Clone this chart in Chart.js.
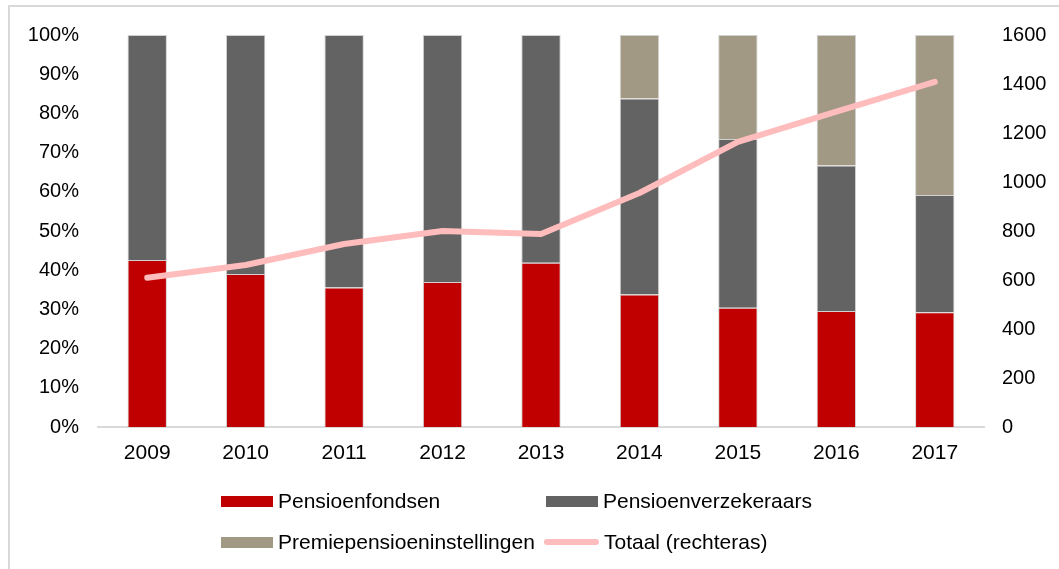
<!DOCTYPE html>
<html>
<head>
<meta charset="utf-8">
<script src="https://cdn.jsdelivr.net/npm/chart.js@4"></script>
<style>
  html, body { margin: 0; padding: 0; background: #fff; }
  #wrap { position: relative; width: 1059px; height: 569px; overflow: hidden; }
  #frame { position: absolute; left: 8px; top: 5px; right: -5px; bottom: -5px; border-left: 2px solid #d9d9d9; border-top: 2px solid #d9d9d9; }
  canvas { position: absolute; left: 0; top: 0; }
  #legend { position: absolute; left: 221px; top: 488px; font-family: "Liberation Sans", Arial, sans-serif; font-size: 21px; color: #000; }
  .item { position: absolute; white-space: nowrap; display: flex; align-items: center; height: 26px; }
  .swatch { width: 52px; height: 11px; margin-right: 5px; }
  .lineSw { width: 55px; height: 6px; border-radius: 3px; margin-right: 5px; }
</style>
</head>
<body>
<div id="wrap">
  <div id="frame"></div>
  <canvas id="chart" width="1059" height="569"></canvas>
  <div id="legend"></div>
</div>
<script>
// ---- data ----
const years = ["2009", "2010", "2011", "2012", "2013", "2014", "2015", "2016", "2017"];
const pensioenfondsen = [42.6, 39.0, 35.6, 37.0, 41.9, 33.8, 30.4, 29.6, 29.3];
const verzekeraars    = [57.4, 61.0, 64.4, 63.0, 58.1, 50.0, 43.1, 37.1, 29.9];
const ppi             = [0, 0, 0, 0, 0, 16.2, 26.5, 33.3, 40.8];
const totaal          = [609, 661, 747, 800, 788, 955, 1164, 1287, 1409];

const seriesNames = ["Pensioenfondsen", "Pensioenverzekeraars", "Premiepensioeninstellingen", "Totaal (rechteras)"];
const colors = ["#c00000", "#636363", "#a29985", "#ffbcbc"];

const FONT = { family: "'Liberation Sans', Arial, sans-serif", size: 20 };
const XFONT = { family: "'Liberation Sans', Arial, sans-serif", size: 21 };
const EDGE = "rgba(190,190,190,0.7)";

const ctx = document.getElementById("chart").getContext("2d");
const chart = new Chart(ctx, {
  data: {
    labels: years,
    datasets: [
      {
        type: "line", label: seriesNames[3], data: totaal, yAxisID: "y2",
        borderColor: colors[3], borderWidth: 6, borderCapStyle: "round", borderJoinStyle: "round",
        pointRadius: 0, tension: 0, order: 0
      },
      { type: "bar", label: seriesNames[0], data: pensioenfondsen, backgroundColor: colors[0], order: 1,
        borderColor: EDGE, borderWidth: 1, categoryPercentage: 1, barPercentage: 0.4 },
      { type: "bar", label: seriesNames[1], data: verzekeraars, backgroundColor: colors[1], order: 1,
        borderColor: EDGE, borderWidth: 1, categoryPercentage: 1, barPercentage: 0.4 },
      { type: "bar", label: seriesNames[2], data: ppi, backgroundColor: colors[2], order: 1,
        borderColor: EDGE, borderWidth: 1, categoryPercentage: 1, barPercentage: 0.4 }
    ]
  },
  options: {
    responsive: false,
    animation: false,
    layout: { padding: { top: 35, bottom: 92, left: 0, right: 0 } },
    plugins: { legend: { display: false }, tooltip: { enabled: false } },
    scales: {
      x: {
        stacked: true,
        grid: { display: false, drawTicks: false },
        border: { display: true, color: "#d9d9d9", width: 2 },
        ticks: { color: "#000", font: XFONT, padding: 14 },
        afterFit: s => { s.height = 50; }
      },
      y: {
        stacked: true, position: "left", min: 0, max: 100,
        grid: { display: false, drawTicks: false },
        border: { display: false },
        ticks: { stepSize: 10, color: "#000", font: FONT, padding: 19, callback: v => v + "%" },
        afterFit: s => { s.width = 98; }
      },
      y2: {
        position: "right", min: 0, max: 1600,
        grid: { display: false, drawTicks: false },
        border: { display: false },
        ticks: { stepSize: 200, color: "#000", font: FONT, padding: 18, callback: v => String(v) },
        afterFit: s => { s.width = 75; }
      }
    }
  }
});

// ---- legend (two columns, two rows) ----
const legend = document.getElementById("legend");
const positions = [[0, 0], [325, 0], [0, 41], [323, 41]];
[0, 1, 2, 3].forEach(i => {
  const item = document.createElement("div");
  item.className = "item";
  item.style.left = positions[i][0] + "px";
  item.style.top = positions[i][1] + "px";
  const sw = document.createElement("span");
  sw.className = i === 3 ? "lineSw" : "swatch";
  sw.style.background = colors[i];
  const txt = document.createElement("span");
  txt.textContent = seriesNames[i];
  item.appendChild(sw);
  item.appendChild(txt);
  legend.appendChild(item);
});
</script>
</body>
</html>
